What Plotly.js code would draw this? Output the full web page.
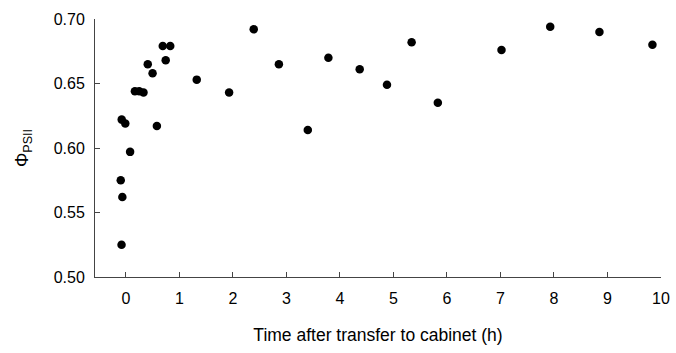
<!DOCTYPE html>
<html>
<head>
<meta charset="utf-8">
<script src="https://cdn.plot.ly/plotly-3.0.1.min.js"></script>
<style>html,body{margin:0;padding:0;background:#fff;}#chart{width:676px;height:353px;}</style>
</head>
<body>
<div id="chart"></div>
<script>
// Time after transfer to cabinet (h)
const timeHours = [-0.095, -0.065, -0.08, -0.077, -0.01, 0.08, 0.17, 0.25, 0.33, 0.41, 0.50, 0.58, 0.69, 0.745, 0.83,
  1.325, 1.93, 2.39, 2.86, 3.40, 3.785, 4.37, 4.88, 5.34, 5.83, 7.02, 7.93, 8.85, 9.84];
// Phi PSII
const phiPSII = [0.575, 0.562, 0.525, 0.622, 0.619, 0.597, 0.644, 0.644, 0.643, 0.665, 0.658, 0.617, 0.679, 0.668, 0.679,
  0.653, 0.643, 0.692, 0.665, 0.614, 0.670, 0.661, 0.649, 0.682, 0.635, 0.676, 0.694, 0.690, 0.680];
const xTicks = [0,1,2,3,4,5,6,7,8,9,10];
const yTicks = [0.50,0.55,0.60,0.65,0.70];
const yTickLabels = ["0.50","0.55","0.60","0.65","0.70"];

const font = "Liberation Sans, Arial, sans-serif";
Plotly.newPlot('chart', [{
  x: timeHours, y: phiPSII, type: 'scatter', mode: 'markers',
  marker: {color: '#000', size: 8.5},
  cliponaxis: false, hoverinfo: 'none'
}], {
  width: 676, height: 353,
  margin: {l: 95, r: 15, t: 19, b: 76},
  paper_bgcolor: '#fff', plot_bgcolor: '#fff',
  showlegend: false,
  font: {family: font, size: 16, color: '#000'},
  xaxis: {
    range: [-0.576, 10], tickvals: xTicks, ticktext: xTicks.map(String),
    ticks: 'inside', ticklen: 5, tickcolor: '#444', tickwidth: 1,
    showline: true, linecolor: '#444', linewidth: 1,
    showgrid: false, zeroline: false,
    tickfont: {family: font, size: 16, color: '#000'},
    ticklabelstandoff: 7,
    title: {text: 'Time after transfer to cabinet (h)', font: {family: font, size: 17.5, color: '#000'}, standoff: 22}
  },
  yaxis: {
    range: [0.5, 0.70], tickvals: yTicks, ticktext: yTickLabels,
    ticks: 'inside', ticklen: 5, tickcolor: '#444', tickwidth: 1,
    showline: true, linecolor: '#444', linewidth: 1,
    showgrid: false, zeroline: false,
    tickfont: {family: font, size: 16, color: '#000'},
    ticklabelstandoff: 6,
    title: {text: 'Φ<sub>PSII</sub>', font: {family: font, size: 18, color: '#000'}, standoff: 20}
  }
}, {staticPlot: true});
</script>
</body>
</html>
